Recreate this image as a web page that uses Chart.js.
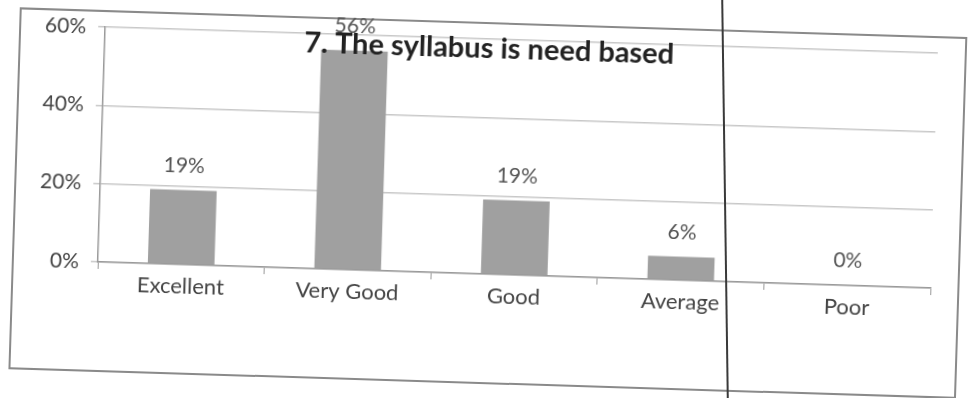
<!DOCTYPE html>
<html>
<head>
<meta charset="utf-8">
<script src="https://cdn.jsdelivr.net/npm/chart.js@4"></script>
<style>
  html, body { margin: 0; padding: 0; background: #fff; }
  body { width: 969px; height: 398px; overflow: hidden; position: relative; }
  #sheet {
    position: absolute; left: 0; top: 0; width: 969px; height: 398px;
    transform: rotate(1.8deg); transform-origin: 484px 199px;
  }
  #frame {
    position: absolute; left: 14px; top: 22px; width: 944px; height: 358px;
    border: 2px solid #8a8a8a;
  }
  #fold {
    position: absolute; left: 724px; top: 0; width: 2px; height: 398px;
    background: #3a3a3a; transform: rotate(-0.8deg);
  }
  canvas { position: absolute; left: 0; top: 0; }
</style>
</head>
<body>
<div id="sheet">
  <div id="frame"></div>
  <canvas id="chart" width="969" height="398"></canvas>
</div>
<div id="fold"></div>
<script>
const categories = ['Excellent', 'Very Good', 'Good', 'Average', 'Poor']
const shares = [19, 56, 19, 6, 0]
const yTicks = [0, 20, 40, 60]
const chartTitle = '7. The syllabus is need based'

const FONT = 'Lato, "Open Sans", sans-serif'

const valueLabels = {
  id: 'valueLabels',
  afterDatasetsDraw(chart) {
    const ctx = chart.ctx
    const meta = chart.getDatasetMeta(0)
    ctx.save()
    ctx.font = '21px ' + FONT
    ctx.fillStyle = '#555'
    ctx.textAlign = 'center'
    ctx.textBaseline = 'bottom'
    meta.data.forEach((bar, i) => {
      ctx.fillText(shares[i] + '%', bar.x, bar.y - 14)
    })
    ctx.restore()
  }
}

const overTitle = {
  id: 'overTitle',
  afterDraw(chart) {
    const ctx = chart.ctx
    ctx.save()
    ctx.font = 'bold 29px ' + FONT
    ctx.fillStyle = '#222'
    ctx.textAlign = 'center'
    ctx.textBaseline = 'middle'
    ctx.fillText(chartTitle, chart.width / 2, 49)
    ctx.restore()
  }
}

new Chart(document.getElementById('chart'), {
  type: 'bar',
  data: {
    labels: categories,
    datasets: [{
      data: shares,
      backgroundColor: '#a0a0a0',
      borderWidth: 0,
      barPercentage: 0.4,
      categoryPercentage: 1
    }]
  },
  options: {
    responsive: false,
    animation: false,
    layout: { padding: { top: 39, right: 36, bottom: 0, left: 0 } },
    plugins: {
      legend: { display: false },
      tooltip: { enabled: false },
      title: { display: false }
    },
    scales: {
      x: {
        afterFit: (scale) => { scale.height = 124 },
        grid: {
          offset: true,
          drawOnChartArea: false,
          drawTicks: true,
          tickLength: 7,
          color: '#999'
        },
        border: { color: '#999', width: 1.5 },
        ticks: {
          color: '#444',
          padding: 2,
          font: { family: FONT, size: 22 }
        }
      },
      y: {
        min: 0,
        max: 60,
        afterFit: (scale) => { scale.width = 100 },
        afterBuildTicks: (scale) => { scale.ticks = yTicks.map(v => ({ value: v })) },
        grid: {
          color: '#c8c8c8',
          lineWidth: 1.5,
          tickLength: 7
        },
        border: { color: '#999', width: 1.5 },
        ticks: {
          color: '#444',
          padding: 12,
          font: { family: FONT, size: 21 },
          callback: (v) => v + '%'
        }
      }
    }
  },
  plugins: [valueLabels, overTitle]
})
</script>
</body>
</html>
